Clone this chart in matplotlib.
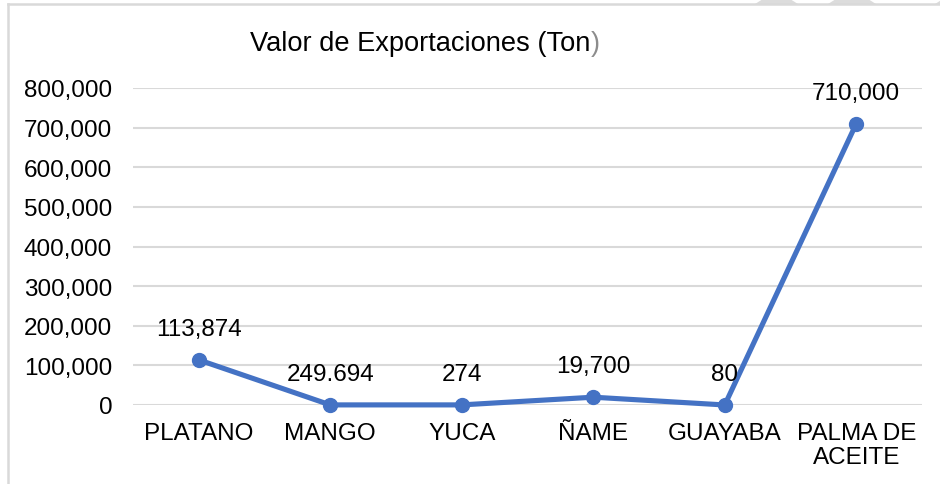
import matplotlib
matplotlib.use("Agg")
import matplotlib.pyplot as plt
from matplotlib.patches import Polygon
from matplotlib.lines import Line2D
from matplotlib.ticker import FuncFormatter

plt.rcParams.update({
    "font.family": ["Liberation Sans", "DejaVu Sans"],
    "font.size": 17.5,
})

categories = ["PLATANO", "MANGO", "YUCA", "ÑAME", "GUAYABA", "PALMA DE\nACEITE"]
values = [113874, 249.694, 274, 19700, 80, 710000]
labels = ["113,874", "249.694", "274", "19,700", "80", "710,000"]
yticks = [0, 100000, 200000, 300000, 400000, 500000, 600000, 700000, 800000]

W, H = 940, 485
fig = plt.figure(figsize=(W / 100, H / 100), dpi=100)
ax = fig.add_axes([133 / W, 1 - 406 / H, (922 - 133) / W, (406 - 89) / H])

x = list(range(len(categories)))
ax.plot(x, values, color="#4472C4", lw=3.7, marker="o", ms=10,
        solid_capstyle="round", zorder=3, clip_on=False)
for xi, v, lab in zip(x, values, labels):
    ax.annotate(lab, (xi, v), xytext=(0, 31), textcoords="offset pixels",
                ha="center", va="center", fontsize=17.5, color="#000000")

ax.set_xlim(-0.5, 5.5)
ax.set_ylim(0, 800000)
ax.set_yticks(yticks)
ax.yaxis.set_major_formatter(FuncFormatter(lambda v, p: f"{int(v):,}"))
ax.set_xticks(x)
ax.set_xticklabels(categories, linespacing=1.15)
ax.tick_params(axis="y", length=0, pad=15, labelsize=17.5)
ax.tick_params(axis="x", length=0, pad=12, labelsize=17.5)
ax.grid(axis="y", color="#D9D9D9", lw=1.5)
ax.set_axisbelow(True)
for s in ax.spines.values():
    s.set_visible(False)

# title, closing bracket drawn in gray
t = fig.text(250 / W, 1 - 44 / H, "Valor de Exportaciones (Ton", fontsize=19.6,
             ha="left", va="center", color="#000000")
fig.canvas.draw()
bb = t.get_window_extent()
fig.text(bb.x1 / W, 1 - 44 / H, ")", fontsize=19.6, ha="left", va="center",
         color="#8C8C8C")

# chart border (cropped at right and bottom)
fig.add_artist(Line2D([8 / W, 8 / W], [0, 1 - 5 / H], transform=fig.transFigure,
                      color="#D9D9D9", lw=1.8))
fig.add_artist(Line2D([8 / W, 1], [1 - 5 / H, 1 - 5 / H], transform=fig.transFigure,
                      color="#D9D9D9", lw=1.8))

# faint watermark pieces at the top edge
for x0, x1 in [(755, 790), (828, 868), (935, 945)]:
    fig.add_artist(Polygon([(x0 / W, 1 - 5 / H), (x0 / W + 8 / W, 1),
                            (x1 / W, 1), (x1 / W + 8 / W, 1 - 5 / H)],
                           closed=True, transform=fig.transFigure,
                           facecolor="#DCDCDC", edgecolor="none"))

fig.savefig("out.png", dpi=100)
